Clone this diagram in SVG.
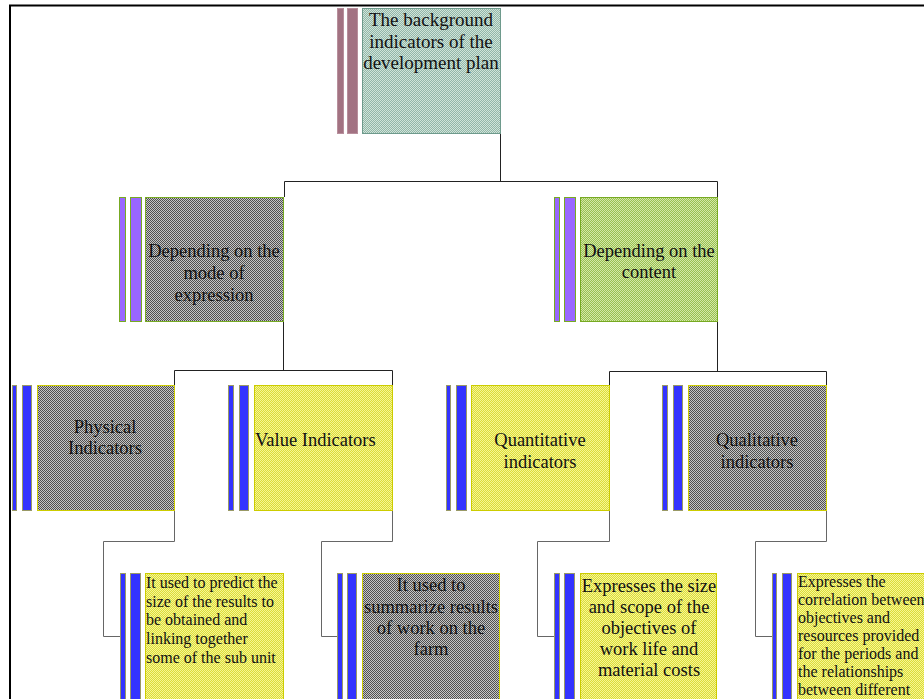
<svg xmlns="http://www.w3.org/2000/svg" width="924" height="699" viewBox="0 0 924 699">
<defs>
<pattern id="pGray" width="2" height="2" patternUnits="userSpaceOnUse"><rect width="2" height="2" fill="#c6c6c6"/><rect width="1" height="1" fill="#505050"/><rect x="1" y="1" width="1" height="1" fill="#505050"/></pattern>
<pattern id="pYellow" width="2" height="2" patternUnits="userSpaceOnUse"><rect width="2" height="2" fill="#dcdc38"/><rect width="1" height="1" fill="#f6f694"/><rect x="1" y="1" width="1" height="1" fill="#f6f694"/></pattern>
<pattern id="pTeal" width="2" height="2" patternUnits="userSpaceOnUse"><rect width="2" height="2" fill="#92b6a8"/><rect width="1" height="1" fill="#d0e4da"/><rect x="1" y="1" width="1" height="1" fill="#d0e4da"/></pattern>
<pattern id="pGreen" width="2" height="2" patternUnits="userSpaceOnUse"><rect width="2" height="2" fill="#98c050"/><rect width="1" height="1" fill="#d4e8a8"/><rect x="1" y="1" width="1" height="1" fill="#d4e8a8"/></pattern>
</defs>
<style>
text{font-family:"Liberation Serif","Times New Roman",serif;font-size:18.5px;fill:#111}
.c{text-anchor:middle}
.s{font-size:16px}
.t{font-size:19px}
.teal{fill:url(#pTeal);stroke:#6e9a8c;stroke-width:1}
.mauve{fill:#a27282;stroke:#b88f9c;stroke-width:1}
.grayG{fill:url(#pGray);stroke:#77aa22;stroke-width:1}
.green{fill:url(#pGreen);stroke:#77aa22;stroke-width:1}
.purple{fill:#9966ff;stroke:#77aa22;stroke-width:1}
.gray{fill:url(#pGray);stroke:#cccc00;stroke-width:1}
.yel{fill:url(#pYellow);stroke:#cccc00;stroke-width:1}
.blue{fill:#3333ff;stroke:#999966;stroke-width:1}
.ln{fill:none;stroke:#222;stroke-width:1}
.ln2{fill:none;stroke:#666;stroke-width:1}
</style>
<rect x="0" y="0" width="924" height="699" fill="#fff"/>
<path d="M10,699 V5.5 H924" fill="none" stroke="#000" stroke-width="2"/>
<g id="connectors">
<path class="ln" d="M500.5,134 V181.5 M284.5,181.5 H717.5 M284.5,181.5 V197 M717.5,181.5 V197"/>
<path class="ln" d="M283.5,322 V370.5 M174.5,370.5 H392.5 M174.5,370.5 V385 M392.5,370.5 V385"/>
<path class="ln" d="M717.5,322 V371.5 M609.5,371.5 H826.5 M609.5,371.5 V385 M826.5,371.5 V385"/>
<path class="ln2" d="M174.5,511 V541.5 H103.5 V636.5 H120"/>
<path class="ln2" d="M392.5,511 V541.5 H321.5 V636.5 H337"/>
<path class="ln2" d="M609.5,511 V541.5 H537.5 V636.5 H554"/>
<path class="ln2" d="M826.5,511 V541.5 H755.5 V636.5 H772"/>
</g>
<g id="n0">
<rect class="mauve" x="337.5" y="8.5" width="6" height="125"/>
<rect class="mauve" x="347.5" y="8.5" width="10" height="125"/>
<rect class="teal" x="362.5" y="8.5" width="138" height="125"/>
<text class="c t" x="431" y="26">The background</text>
<text class="c t" x="431" y="48">indicators of the</text>
<text class="c t" x="431" y="69">development plan</text>
</g>
<g id="n1">
<rect class="purple" x="119.5" y="197.5" width="6" height="124"/>
<rect class="purple" x="130.5" y="197.5" width="11" height="124"/>
<rect class="grayG" x="145.5" y="197.5" width="138" height="124"/>
<text class="c" x="214" y="257">Depending on the</text>
<text class="c" x="214" y="279">mode of</text>
<text class="c" x="214" y="301">expression</text>
</g>
<g id="n2">
<rect class="purple" x="554.5" y="197.5" width="5" height="124"/>
<rect class="purple" x="564.5" y="197.5" width="11" height="124"/>
<rect class="green" x="580.5" y="197.5" width="137" height="124"/>
<text class="c" x="649" y="257">Depending on the</text>
<text class="c" x="649" y="278">content</text>
</g>
<g id="n3">
<rect class="blue" x="12.5" y="385.5" width="4" height="125"/>
<rect class="blue" x="22.5" y="385.5" width="9" height="125"/>
<rect class="gray" x="37.5" y="385.5" width="137" height="125"/>
<text class="c" x="105" y="433">Physical</text>
<text class="c" x="105" y="454">Indicators</text>
</g>
<g id="n4">
<rect class="blue" x="228.5" y="385.5" width="5" height="125"/>
<rect class="blue" x="239.5" y="385.5" width="9" height="125"/>
<rect class="yel" x="254.5" y="385.5" width="138" height="125"/>
<text x="255" y="446">Value Indicators</text>
</g>
<g id="n5">
<rect class="blue" x="446.5" y="385.5" width="4" height="125"/>
<rect class="blue" x="456.5" y="385.5" width="10" height="125"/>
<rect class="yel" x="471.5" y="385.5" width="138" height="125"/>
<text class="c" x="540" y="446">Quantitative</text>
<text class="c" x="540" y="468">indicators</text>
</g>
<g id="n6">
<rect class="blue" x="662.5" y="385.5" width="5" height="125"/>
<rect class="blue" x="673.5" y="385.5" width="9" height="125"/>
<rect class="gray" x="688.5" y="385.5" width="138" height="125"/>
<text class="c" x="757" y="446">Qualitative</text>
<text class="c" x="757" y="468">indicators</text>
</g>
<g id="n7">
<rect class="blue" x="120.5" y="573.5" width="5" height="126"/>
<rect class="blue" x="130.5" y="573.5" width="10" height="126"/>
<rect class="yel" x="145.5" y="573.5" width="138" height="126"/>
<text class="s" x="146" y="588">It used to predict the</text>
<text class="s" x="146" y="607">size of the results to</text>
<text class="s" x="146" y="625">be obtained and</text>
<text class="s" x="146" y="644">linking together</text>
<text class="s" x="146" y="663">some of the sub unit</text>
</g>
<g id="n8">
<rect class="blue" x="337.5" y="573.5" width="5" height="126"/>
<rect class="blue" x="347.5" y="573.5" width="9" height="126"/>
<rect class="gray" x="362.5" y="573.5" width="137" height="126"/>
<text class="c" x="431" y="591">It used to</text>
<text class="c" x="431" y="613">summarize results</text>
<text class="c" x="431" y="634">of work on the</text>
<text class="c" x="431" y="655">farm</text>
</g>
<g id="n9">
<rect class="blue" x="554.5" y="573.5" width="5" height="126"/>
<rect class="blue" x="564.5" y="573.5" width="10" height="126"/>
<rect class="yel" x="580.5" y="573.5" width="136" height="126"/>
<text class="c" x="649" y="592">Expresses the size</text>
<text class="c" x="649" y="613">and scope of the</text>
<text class="c" x="649" y="634">objectives of</text>
<text class="c" x="649" y="655">work life and</text>
<text class="c" x="649" y="676">material costs</text>
</g>
<g id="n10">
<rect class="blue" x="772.5" y="573.5" width="4" height="126"/>
<rect class="blue" x="782.5" y="573.5" width="9" height="126"/>
<rect class="yel" x="797.5" y="573.5" width="138" height="126"/>
<text class="s" x="798" y="587">Expresses the</text>
<text class="s" x="798" y="605">correlation between</text>
<text class="s" x="798" y="623">objectives and</text>
<text class="s" x="798" y="641">resources provided</text>
<text class="s" x="798" y="659">for the periods and</text>
<text class="s" x="798" y="677">the relationships</text>
<text class="s" x="798" y="695">between different</text>
</g>
</svg>
